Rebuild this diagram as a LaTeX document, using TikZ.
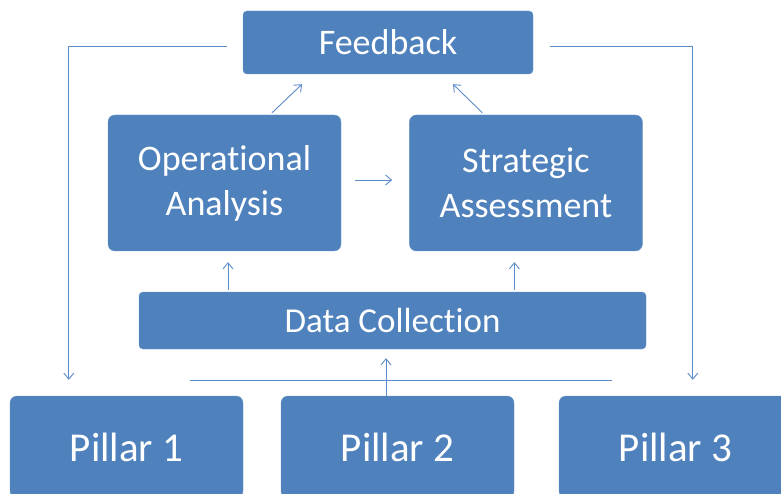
\documentclass[tikz,border=0pt]{standalone}
\usepackage{fontspec}
\setmainfont{Carlito}[Ligatures=NoCommon]
\usetikzlibrary{arrows.meta, positioning}
\definecolor{boxblue}{HTML}{4F81BD}
\definecolor{lineblue}{HTML}{5B8BC8}
\tikzset{
  block/.style = {draw=boxblue!85!white, fill=boxblue, text=white, rounded corners=7pt,
                  align=center, inner sep=0, font=\fontsize{36}{45}\selectfont},
  bar/.style = {block, rounded corners=4pt},
  pillar/.style = {block, minimum width=233pt, minimum height=102pt,
                   font=\fontsize{41}{46}\selectfont},
  link/.style = {draw=lineblue, line width=0.9pt, -{Straight Barb[length=6pt, width=10pt]}},
  rail/.style = {draw=lineblue, line width=0.9pt},
}

\begin{document}
\begin{tikzpicture}[x=1pt, y=-1pt, node distance=0]
        \useasboundingbox (0,0) rectangle (781,494);
        \clip (0,0) rectangle (781,494);
        % top row: feedback
        \node (feedback) [bar, minimum width=290pt, minimum height=63pt] at (388,42.5) {Feedback};
        % middle row: the two analyses
        \node (operational) [block, minimum width=233pt, minimum height=136pt] at (224.5,183)
              {Operational\\Analysis};
        \node (strategic) [block, minimum width=233pt, minimum height=136pt, right=68pt of operational]
              {Strategic\\Assessment};
        \node (collection) [bar, minimum width=507pt, minimum height=57pt,
               font=\fontsize{35}{40}\selectfont] at (392.5,320.5) {Data Collection};
        % bottom row: the pillars
        \foreach \X/\x in {
          1/126.5,
          2/397.5,
          3/675.5%
        }{
          \node (pillar\X) [pillar] at (\x,447) {Pillar \X};
        }

        % pillars feed the data collection
        \coordinate (railL) at (190,380);
        \coordinate (railR) at (612,380);
        \draw [rail] (railL) -- (railR);
        \draw [link] ([xshift=-11.5pt]pillar2.north) -- ([xshift=-6.5pt, yshift=-9pt]collection.south);

        % data collection up to the analyses
        \draw [link] ([xshift=3.5pt, yshift=2pt]operational.south |- collection.north)
              -- ([xshift=3.5pt, yshift=-11pt]operational.south);
        \draw [link] ([xshift=-11.5pt, yshift=2pt]strategic.south |- collection.north)
              -- ([xshift=-11.5pt, yshift=-11pt]strategic.south);

        % operational -> strategic
        \draw [link, shorten <=14pt, shorten >=17pt] ([yshift=3pt]operational.east) -- ([yshift=3pt]strategic.west);

        % analyses up to feedback
        \draw [link] ([xshift=47.5pt, yshift=2pt]operational.north) -- ([xshift=-86pt, yshift=-10pt]feedback.south);
        \draw [link] ([xshift=-43.5pt, yshift=2pt]strategic.north) -- ([xshift=65pt, yshift=-10pt]feedback.south);

        % feedback loops back to the outer pillars
        \draw [link, shorten <=16pt, shorten >=16pt] ([yshift=-3.5pt]feedback.west) -| ([xshift=59pt]pillar1.north west);
        \draw [link, shorten <=17pt, shorten >=16pt] ([yshift=-3.5pt]feedback.east) -| ([xshift=134pt]pillar3.north west);
\end{tikzpicture}
\end{document}
